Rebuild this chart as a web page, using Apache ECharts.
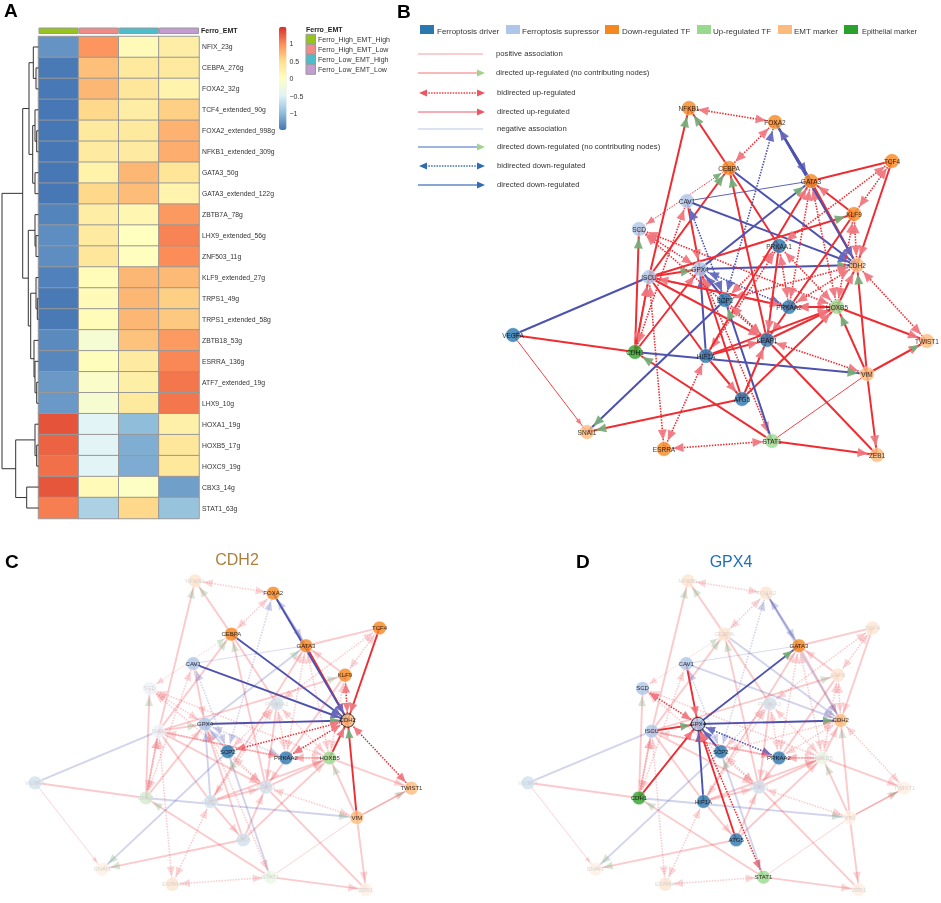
<!DOCTYPE html>
<html><head><meta charset="utf-8">
<style>html,body{margin:0;padding:0;background:#fff}#c{width:941px;height:903px;will-change:transform}</style>
<script src="https://cdn.jsdelivr.net/npm/echarts@6/dist/echarts.min.js"></script>
</head><body><div id="c"></div>
<script>
// ---------- Panel A data ----------
const groups = ['Ferro_High_EMT_High','Ferro_High_EMT_Low','Ferro_Low_EMT_High','Ferro_Low_EMT_Low'];
const groupColors = ['#96c31e','#f08c88','#4dbdcb','#c39cd0'];
const regulons = ['NFIX_23g','CEBPA_276g','FOXA2_32g','TCF4_extended_90g','FOXA2_extended_998g','NFKB1_extended_309g','GATA3_50g','GATA3_extended_122g','ZBTB7A_78g','LHX9_extended_56g','ZNF503_11g','KLF9_extended_27g','TRPS1_49g','TRPS1_extended_58g','ZBTB18_53g','ESRRA_136g','ATF7_extended_19g','LHX9_10g','HOXA1_19g','HOXB5_17g','HOXC9_19g','CBX3_14g','STAT1_63g'];
const expr = [
 [-1.26,0.95,0.1,0.3],[-1.43,0.7,0.35,0.35],[-1.44,0.75,0.4,0.2],[-1.45,0.55,0.3,0.6],
 [-1.45,0.35,0.35,0.78],[-1.45,0.33,0.33,0.8],[-1.45,0.22,0.75,0.43],[-1.45,0.55,0.72,0.2],
 [-1.36,0.3,0.15,0.93],[-1.3,0.33,0.02,1.05],[-1.3,0.4,0.03,1.0],[-1.38,0.07,0.75,0.74],
 [-1.43,0.1,0.75,0.6],[-1.43,0.08,0.75,0.65],[-1.32,-0.15,0.68,0.92],[-1.34,0.05,0.33,1.03],
 [-1.22,-0.07,0.27,1.12],[-1.22,-0.12,0.35,1.12],[1.3,-0.45,-0.98,0.25],[1.22,-0.45,-1.08,0.4],
 [1.15,-0.45,-1.1,0.38],[1.29,0.1,-0.02,-1.18],[1.08,-0.8,0.55,-0.93]];
const scaleTicks = [1,0.5,0,-0.5,-1];
// dendrogram merges: [height, child A, child B]; child >= 0 is a row, child < 0 is merge -(child+1)
const merges = [[36,1,2],[33.3,0,-1],[36.7,4,5],[35,3,-3],[35,6,7],[32.7,-4,-5],[29,-2,-6],
 [36,9,10],[35,8,-8],[37.3,12,13],[36,11,-10],[36.7,16,17],[35,15,-12],[34,14,-13],[30.7,-11,-14],
 [28.3,-9,-15],[22.7,-7,-16],[36.7,19,20],[35,18,-18],[26.7,21,22],[15.7,-19,-20],[2,-17,-21]];
const leafHeight = 38.5;

// ---------- Network data ----------
const nodeNames = ['NFKB1','FOXA2','TCF4','CEBPA','GATA3','CAV1','KLF9','SCD','PRKAA1','CDH2','GPX4','ISCU','SCP2','PRKAA2','HOXB5','VEGFA','CDH1','HIF1A','KEAP1','VIM','TWIST1','ATG5','SNAI1','ESRRA','STAT1','ZEB1'];
const nodeGroup = [2,2,2,2,2,1,2,1,0,4,1,1,0,0,3,0,5,0,0,4,4,0,4,2,3,4];
const nodeX = [689,775,892,729,811,687,854,639,779,857,700,649,725,789,837,513,635,706,767,867,927,742,587,664,772,877];
const nodeY = [108,122,161,168,181,201,214,229,246,265,269,277,300,307,307,335,352,356,340,374,341,399,432,449,441,455];
const nodeTypes = ['Ferroptosis driver','Ferroptosis supressor','Down-regulated TF','Up-regulated TF','EMT marker','Epithelial marker'];
const edgeList = [
 ['NFKB1','FOXA2','biU'],['FOXA2','CEBPA','biU'],['CEBPA','NFKB1','upG'],['ISCU','NFKB1','upG'],
 ['SCD','CEBPA','biT'],['ISCU','CEBPA','upG'],['KEAP1','CEBPA','upG'],['CEBPA','PRKAA1','pos2'],
 ['CEBPA','CDH2','dn'],['CAV1','CDH2','dn'],['CAV1','GATA3','neg'],['CAV1','GPX4','up'],
 ['CAV1','SCP2','biD'],['SCP2','FOXA2','biD'],['GPX4','GATA3','dnG'],['SCP2','GPX4','dn'],
 ['GPX4','PRKAA2','biD'],['GPX4','CDH2','dnG'],['HIF1A','GPX4','dn'],['ISCU','GPX4','upG'],
 ['CDH1','GPX4','up'],['ATG5','GPX4','up'],['GPX4','STAT1','biU'],['SCD','GPX4','biU'],
 ['VEGFA','ISCU','neg2'],['VEGFA','CDH1','pos2'],['VEGFA','SNAI1','posH'],['CDH1','SCD','upG'],
 ['CDH1','ISCU','biU'],['CDH1','ISCU','up'],['ISCU','HIF1A','pos2'],['ISCU','KEAP1','up'],
 ['ISCU','PRKAA2','up'],['ISCU','PRKAA2','biU'],['ISCU','KLF9','upG'],['ISCU','ESRRA','biU'],
 ['SCD','KEAP1','biU'],['SCD','HOXB5','biU'],['CDH1','CAV1','biU'],['STAT1','ESRRA','biU'],
 ['STAT1','ZEB1','up'],['STAT1','CDH1','upG'],['VIM','STAT1','pos'],['VIM','ZEB1','up'],
 ['KEAP1','ZEB1','pos2'],['VIM','HOXB5','upG'],['VIM','CDH2','upG'],['HOXB5','CDH2','up'],
 ['VIM','TWIST1','up'],['VIM','TWIST1','posG'],['KEAP1','VIM','biU'],['CDH1','VIM','dnG'],
 ['HOXB5','TWIST1','up'],['CDH2','TWIST1','biU'],['KLF9','CDH2','biU'],['KLF9','HOXB5','biU'],
 ['KLF9','KEAP1','up'],['KLF9','TCF4','biU'],['KLF9','GATA3','up'],['TCF4','GATA3','pos2'],
 ['TCF4','CDH2','up'],['PRKAA1','TCF4','biU'],['SCP2','CDH2','biU'],['PRKAA2','CDH2','biU'],
 ['PRKAA1','PRKAA2','biU'],['PRKAA1','SCP2','biU'],['HIF1A','PRKAA1','biU'],['PRKAA1','KEAP1','up'],
 ['PRKAA1','HOXB5','biU'],['GATA3','PRKAA2','biU'],['GATA3','HOXB5','biU'],['GATA3','CDH2','up'],
 ['HIF1A','GATA3','up'],['FOXA2','CDH2','dn'],['FOXA2','GATA3','dn'],['GATA3','FOXA2','dn'],
 ['HIF1A','HOXB5','up'],['KEAP1','HOXB5','up'],['ATG5','HOXB5','up'],['ATG5','SNAI1','upG'],
 ['SCP2','SNAI1','dnG'],['STAT1','SCP2','dnG'],['HIF1A','ATG5','up'],['ATG5','KEAP1','up'],
 ['HIF1A','ESRRA','biU'],['SCP2','KEAP1','biU'],['HIF1A','KEAP1','up'],['PRKAA2','HOXB5','biU'],
 ['HOXB5','PRKAA2','up']
];
const panelTitles = ['CDH2','GPX4'];
const edgeLegend = [['positive association','pos'],['directed up-regulated (no contributing nodes)','upG'],['bidirected up-regulated','biU'],['directed up-regulated','up'],['negative association','neg'],['directed down-regulated (no contributing nodes)','dnG'],['bidirected down-regulated','biD'],['directed down-regulated','dn']];

// ---------- Styles ----------
const FONT = '"Liberation Sans", Arial, sans-serif';
const RED='#ee2d33', BLUE='#4d52ae', HP='#f0767f', HG='#74ad78', HB='#6367bd';
const typeKeys=['pos','posH','posG','pos2','up','upG','biU','biT','neg','neg2','dn','dnG','biD'];
const typeStyle={
 pos:{w:.9,c:RED},posH:{w:.9,c:RED,e:HP,s:.6},posG:{w:1,c:RED,e:HG,s:.8},pos2:{w:2,c:RED},
 up:{w:2,c:RED,e:HP},upG:{w:2,c:RED,e:HG},biU:{w:1.6,c:RED,d:[1.5,1.3],e:HP,b:HP},biT:{w:1,c:RED,d:[1.5,1.3],e:HG,b:HP,s:.8},
 neg:{w:.9,c:BLUE},neg2:{w:2,c:BLUE},dn:{w:2,c:BLUE,e:HB},dnG:{w:2,c:BLUE,e:HG},biD:{w:1.6,c:BLUE,d:[1.5,1.3],e:HB,b:HB}};
const legendLine={pos:'#f4838c',upG:'#f7a0a6',biU:'#ee3d48',up:'#f5919a',neg:'#a3b8de',dnG:'#7f9dd2',biD:'#3b6db5',dn:'#5f88c5'};
const legendHead={upG:'#a3d28f',biU:'#ee5560',up:'#ee5560',dnG:'#a3d28f',biD:'#2f6cb3',dn:'#2f6cb3'};
const nodeColors=['#2a78ae','#aec7e8','#f5871f','#98d98e','#fbbb7c','#2ca02c'];
function pale(hex,a){const n=parseInt(hex.slice(1),16),m=s=>Math.round(255-(255-((n>>s)&255))*a);return `rgb(${m(16)},${m(8)},${m(0)})`;}

// ---------- Derived ----------
const idx=n=>nodeNames.indexOf(n);
const edgeData=edgeList.map(e=>{const a=idx(e[0]),b=idx(e[1]);return [nodeX[a],nodeY[a],nodeX[b],nodeY[b],typeKeys.indexOf(e[2]),a,b];});
function headPts(tip,ux,uy,L,W){const bx=tip[0]-ux*L,by=tip[1]-uy*L;return [tip,[bx-uy*W/2,by+ux*W/2],[bx+uy*W/2,by-ux*W/2]];}
function edgeRender(focus,k){const fi=focus?idx(focus):-1;return function(p,api){
  const a=api.coord([api.value(0),api.value(1)]),b=api.coord([api.value(2),api.value(3)]);
  const t=typeStyle[typeKeys[api.value(4)]],f=api.value(5),g=api.value(6);
  const hot=fi<0||f===fi||g===fi,op=hot?1:.25,hop=hot?.92:.3;
  const dx=b[0]-a[0],dy=b[1]-a[1],len=Math.hypot(dx,dy)||1,ux=dx/len,uy=dy/len,R=9*k,s=(t.s||1)*k;
  const ch=[{type:'line',silent:true,shape:{x1:a[0],y1:a[1],x2:b[0],y2:b[1]},style:{stroke:t.c,lineWidth:t.w*(k<1?.95:1),lineDash:t.d||null,opacity:op,fill:null}}];
  if(t.e)ch.push({type:'polygon',silent:true,shape:{points:headPts([b[0]-ux*R,b[1]-uy*R],ux,uy,10.5*s,9*s)},style:{fill:t.e,opacity:hop}});
  if(t.b)ch.push({type:'polygon',silent:true,shape:{points:headPts([a[0]+ux*R,a[1]+uy*R],-ux,-uy,10.5*s,9*s)},style:{fill:t.b,opacity:hop}});
  return {type:'group',children:ch};
};}
function nodeData(focus){const fi=focus?idx(focus):-1;const near=new Set();edgeData.forEach(e=>{if(e[5]===fi)near.add(e[6]);if(e[6]===fi)near.add(e[5]);});
  return nodeNames.map((n,i)=>{const hot=fi<0||i===fi||near.has(i),col=nodeColors[nodeGroup[i]];return {name:n,value:[nodeX[i],nodeY[i]],
    itemStyle:{color:hot?col:pale(col,.22),borderColor:i===fi?'#111':'#fff',borderWidth:i===fi?1:.5},
    label:{color:hot?'#000':'#cfcfcf'}};});}

// ---------- Dendrogram ----------
const pos=merges.map(()=>null);
function childPos(c){return c>=0?[leafHeight,c+.5]:pos[-c-1];}
const dendroData=merges.map((m,i)=>{const A=childPos(m[1]),B=childPos(m[2]);pos[i]=[m[0],(A[1]+B[1])/2];return [A[0],A[1],m[0],B[1],B[0]];});

// ---------- Grids ----------
const netPanels=[{left:500,top:90,w:440,h:380,focus:null,k:1,sz:14.5,fs:6.5},
  {left:23.2,top:564.7,w:400,h:344,focus:panelTitles[0],k:.907,sz:13.5,fs:6},
  {left:516.2,top:564.7,w:400,h:344,focus:panelTitles[1],k:.907,sz:13.5,fs:6}];
const grid=[{left:38.5,top:36.5,width:160.5,height:482},{left:38.5,top:27.5,width:160.5,height:6.5},
  {left:0,top:36.5,width:38.5,height:482},{left:279,top:26.7,width:7.5,height:103.3}];
const xAxis=[{type:'category',gridIndex:0,data:groups,show:false},{type:'category',gridIndex:1,data:groups,show:false},
  {type:'value',gridIndex:2,min:0,max:leafHeight,show:false},{type:'value',gridIndex:3,min:0,max:1,show:false}];
const yAxis=[{type:'category',gridIndex:0,data:regulons,inverse:true,position:'right',axisLine:{show:false},axisTick:{show:false},
    axisLabel:{fontFamily:FONT,fontSize:6.8,color:'#333',margin:3}},
  {type:'value',gridIndex:1,min:0,max:1,show:false},
  {type:'value',gridIndex:2,min:0,max:regulons.length,inverse:true,show:false},
  {type:'value',gridIndex:3,min:-1.46,max:1.49,position:'right',splitLine:{show:false},axisLine:{show:false},axisTick:{show:false},
    axisLabel:{customValues:scaleTicks,fontFamily:FONT,fontSize:7,color:'#333',margin:3,formatter:v=>String(v).replace('-','\u2212')}}];
netPanels.forEach(p=>{grid.push({left:p.left,top:p.top,width:p.w,height:p.h});
  xAxis.push({type:'value',gridIndex:grid.length-1,min:500,max:940,show:false});
  yAxis.push({type:'value',gridIndex:grid.length-1,min:90,max:470,inverse:true,show:false});});

const series=[
 {type:'heatmap',name:'Regulon activity',xAxisIndex:0,yAxisIndex:0,
  data:expr.flatMap((r,i)=>r.map((v,j)=>[j,i,v])),itemStyle:{borderColor:'#999',borderWidth:1},emphasis:{disabled:true}},
 {type:'bar',name:'Ferro_EMT',xAxisIndex:1,yAxisIndex:1,barWidth:'100%',silent:true,
  data:groupColors.map(c=>({value:1,itemStyle:{color:c,borderColor:'#999',borderWidth:1}}))},
 {type:'custom',name:'dendrogram',xAxisIndex:2,yAxisIndex:2,silent:true,clip:false,data:dendroData,encode:{x:[0,2,4],y:[1,3]},
  renderItem:(p,api)=>{const P=[api.coord([api.value(0),api.value(1)]),api.coord([api.value(2),api.value(1)]),api.coord([api.value(2),api.value(3)]),api.coord([api.value(4),api.value(3)])];
    return {type:'polyline',shape:{points:P},style:{stroke:'#333',lineWidth:1,fill:null}};}}
];
netPanels.forEach((p,i)=>{const a=4+i;
 series.push({type:'custom',name:'edges'+i,xAxisIndex:a,yAxisIndex:a,silent:true,clip:false,z:2,data:edgeData,encode:{x:[0,2],y:[1,3]},renderItem:edgeRender(p.focus,p.k)});
 series.push({type:'scatter',name:'nodes'+i,xAxisIndex:a,yAxisIndex:a,clip:false,silent:true,z:3,symbolSize:p.sz,data:nodeData(p.focus),
   label:{show:true,position:'inside',formatter:'{b}',fontFamily:FONT,fontSize:p.fs,color:'#000'}});});

// ---------- Static text & legends ----------
const txt=(x,y,s,o={})=>({type:'text',silent:true,z:20,x,y,style:Object.assign({text:s,fontFamily:FONT,fontSize:7,fill:'#333',align:'left',verticalAlign:'middle'},o)});
const g=[];
[['A',4,10],['B',397,11],['C',5,561],['D',576,561]].forEach(a=>g.push(txt(a[1],a[2],a[0],{fontSize:19,fontWeight:'bold',fill:'#000'})));
g.push(txt(201,30.7,'Ferro_EMT',{fontWeight:'bold',fill:'#222'}));
g.push(txt(306,29,'Ferro_EMT',{fontWeight:'bold',fill:'#222'}));
groups.forEach((n,i)=>{g.push({type:'rect',silent:true,z:20,shape:{x:306,y:34.3+10*i,width:9.5,height:10},style:{fill:groupColors[i],stroke:'#999',lineWidth:1}});
  g.push(txt(318,39.3+10*i,n));});
g.push(txt(237,559,panelTitles[0],{fontSize:16,fill:'#ad7f3f',align:'center'}));
g.push(txt(731,561,panelTitles[1],{fontSize:16,fill:'#1f6fbd',align:'center'}));
const swatchX=[420,506,605,697,778,844],swatchT=[437,522,622,713,794,862];
nodeTypes.forEach((n,i)=>{g.push({type:'rect',silent:true,z:20,shape:{x:swatchX[i],y:25,width:14,height:9},style:{fill:nodeColors[i]}});
  g.push(txt(swatchT[i],31,n,{fontSize:i===5?7.4:8}));});
const legendY=[54,73,93,112,129,147,166,185];
edgeLegend.forEach((e,i)=>{const y=legendY[i],t=typeStyle[e[1]],dotted=!!t.d,th=['pos','neg'].includes(e[1])?.8:1.5;
  g.push({type:'line',silent:true,z:20,shape:{x1:e[1]==='biU'||e[1]==='biD'?423:418,y1:y,x2:483,y2:y},style:{stroke:legendLine[e[1]],lineWidth:th,lineDash:dotted?[1.5,1.2]:null}});
  const hc=legendHead[e[1]];
  if(hc)g.push({type:'polygon',silent:true,z:21,shape:{points:[[485,y],[477,y-3.5],[477,y+3.5]]},style:{fill:hc}});
  if(t.b)g.push({type:'polygon',silent:true,z:21,shape:{points:[[419,y],[427,y-3.5],[427,y+3.5]]},style:{fill:hc}});
  g.push(txt(i<2?496:497,y-.5,e[0],{fontSize:7.7}));});

const chart=echarts.init(document.getElementById('c'),null,{renderer:'svg',width:941,height:903});
chart.setOption({animation:false,backgroundColor:'#fff',grid,xAxis,yAxis,series,graphic:{elements:g},tooltip:{show:false},
 visualMap:{show:true,seriesIndex:0,dimension:2,min:-1.46,max:1.49,left:279,top:26.7,itemWidth:7.5,itemHeight:103.3,calculable:false,showLabel:false,text:null,padding:0,hoverLink:false,
   inRange:{color:['#4575b4','#91bfdb','#e0f3f8','#ffffbf','#fee090','#fc8d59','#d73027']}}});
</script></body></html>
